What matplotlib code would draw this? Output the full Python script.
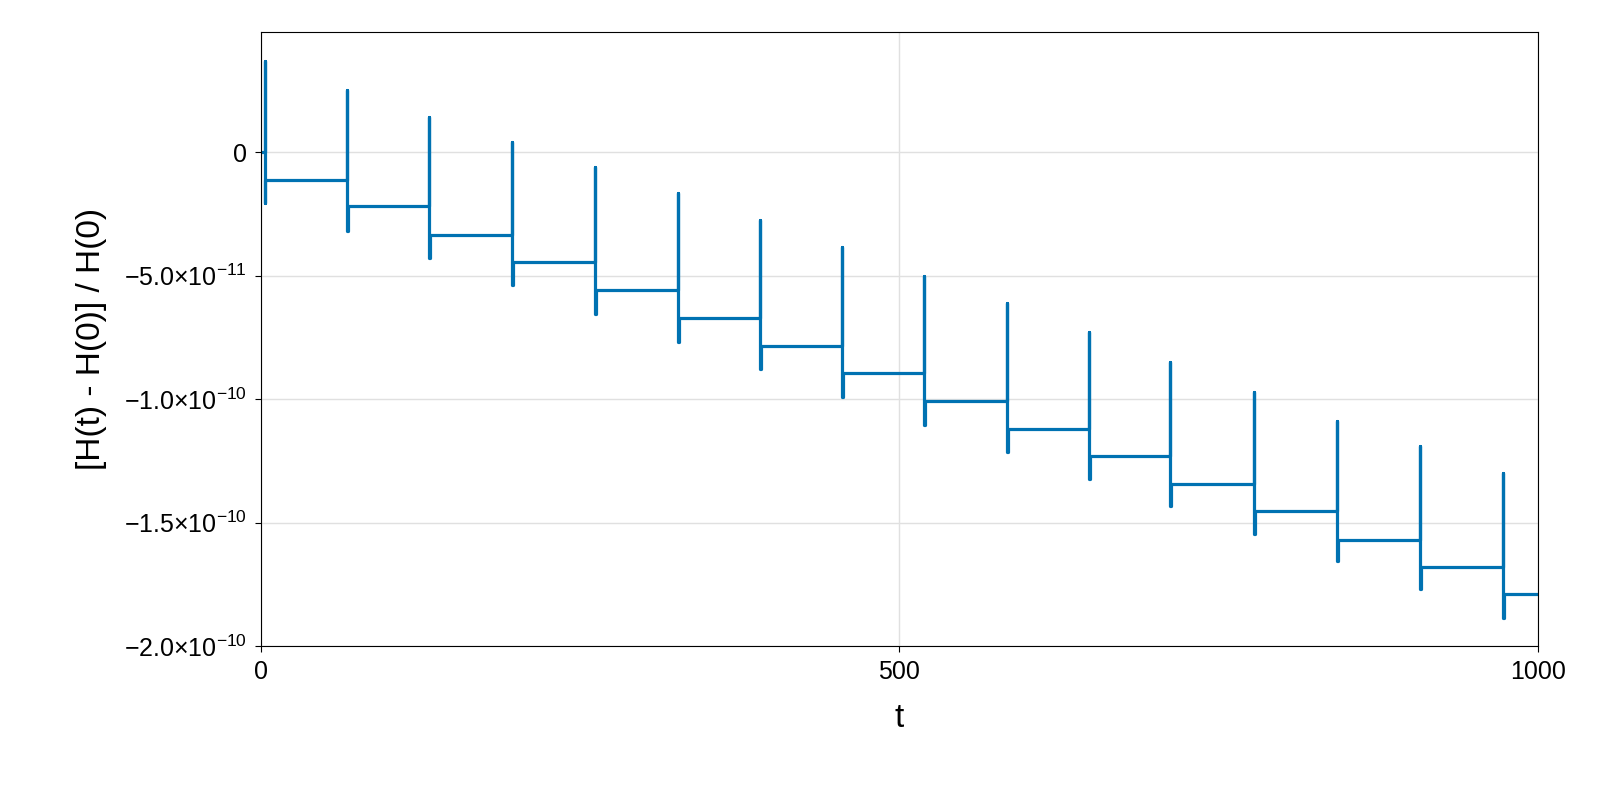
import matplotlib
matplotlib.use("Agg")
import matplotlib.pyplot as plt

plt.rcParams['font.family'] = ['Liberation Sans', 'DejaVu Sans']
plt.rcParams['mathtext.fontset'] = 'custom'
plt.rcParams['mathtext.rm'] = 'Liberation Sans'

event_t = [3, 67.4, 131.7, 196.7, 261.8, 326.8, 391, 455, 519.6, 584.6, 649, 712, 778, 843, 908, 973]
levels = [-1.13e-11, -2.2e-11, -3.36e-11, -4.45e-11, -5.6e-11, -6.7e-11, -7.85e-11, -8.95e-11,
          -1.01e-10, -1.12e-10, -1.23e-10, -1.345e-10, -1.455e-10, -1.57e-10, -1.68e-10, -1.79e-10]
spike_top = [3.7e-11, 2.5e-11, 1.4e-11, 0.4e-11, -0.6e-11, -1.66e-11, -2.75e-11, -3.85e-11,
             -5.0e-11, -6.1e-11, -7.3e-11, -8.5e-11, -9.7e-11, -1.09e-10, -1.19e-10, -1.3e-10]
spike_bot = [-2.06e-11, -3.2e-11, -4.3e-11, -5.4e-11, -6.55e-11, -7.7e-11, -8.8e-11, -9.9e-11,
             -1.105e-10, -1.215e-10, -1.325e-10, -1.435e-10, -1.545e-10, -1.655e-10, -1.77e-10, -1.885e-10]
t_end = 1000
yticks = [0, -5e-11, -1e-10, -1.5e-10, -2e-10]
ytick_labels = ['0', r'$-5.0{\times}10^{-11}$', r'$-1.0{\times}10^{-10}$',
                r'$-1.5{\times}10^{-10}$', r'$-2.0{\times}10^{-10}$']
xticks = [0, 500, 1000]

xs, ys = [0], [0.0]
for t, lv, tp, bt in zip(event_t, levels, spike_top, spike_bot):
    xs += [t, t, t, t + 0.6, t + 0.6]
    ys += [ys[-1], tp, bt, bt, lv]
xs.append(t_end)
ys.append(levels[-1])

fig = plt.figure(figsize=(16, 8), dpi=100)
ax = fig.add_axes([0.163, 0.1925, 0.798, 0.7675])
ax.plot(xs, ys, color='#0072B2', lw=2.3)
ax.set_xlim(0, 1000)
ax.set_ylim(-2e-10, 4.86e-11)
ax.set_xticks(xticks)
ax.set_xticklabels([str(v) for v in xticks])
ax.set_yticks(yticks)
ax.set_yticklabels(ytick_labels)
ax.grid(True, color='#e0e0e0', lw=1)
ax.set_axisbelow(True)
ax.tick_params(labelsize=18, length=4, pad=6)
ax.set_xlabel('t', fontsize=24, labelpad=14)
ax.set_ylabel('[H(t) - H(0)] / H(0)', fontsize=24, labelpad=12)
fig.savefig('out.png')
